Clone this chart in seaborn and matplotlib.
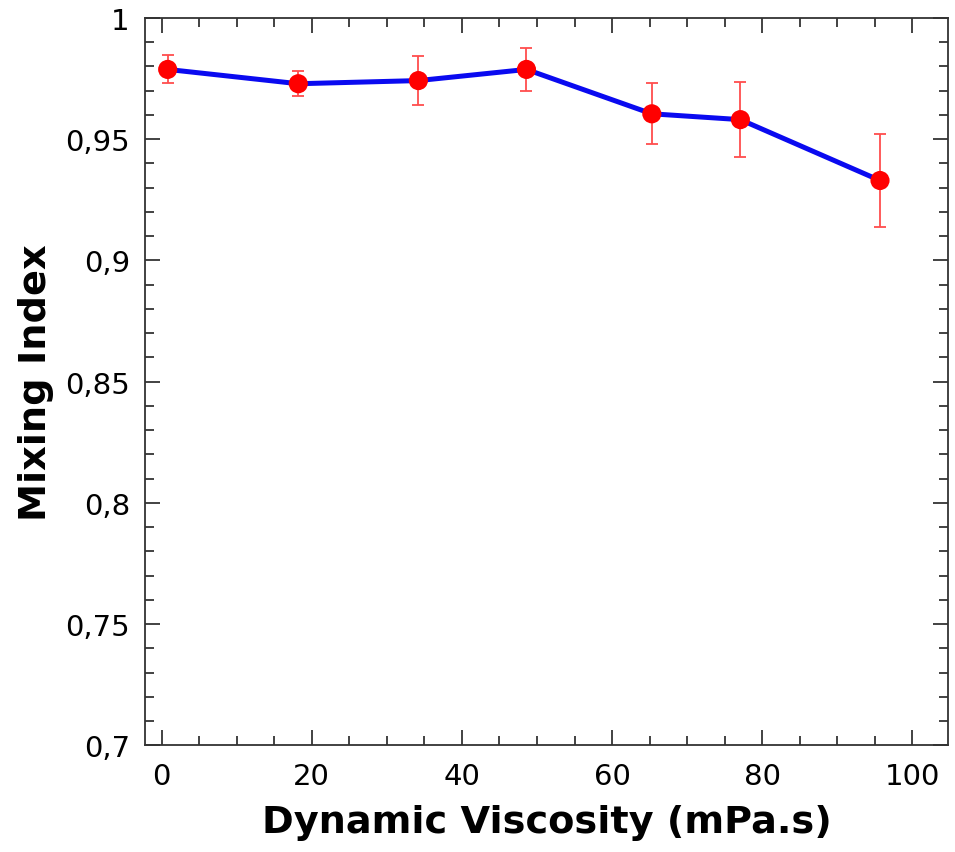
import numpy as np
import pandas as pd
import matplotlib
matplotlib.use('Agg')
import matplotlib.pyplot as plt
import seaborn as sns
from matplotlib.ticker import MultipleLocator, FuncFormatter

# values
viscosity = [0.8, 18.2, 34.2, 48.6, 65.3, 77.1, 95.7]
mixing_index = [0.9787, 0.9728, 0.9741, 0.9787, 0.9604, 0.9580, 0.9329]
mixing_err = [0.0058, 0.0052, 0.0100, 0.0087, 0.0126, 0.0155, 0.0193]

df = pd.DataFrame({'visc': viscosity, 'mi': mixing_index, 'err': mixing_err})

sns.set_style('ticks')
plt.rcParams['font.family'] = ['DejaVu Sans']
plt.rcParams['text.color'] = 'black'
plt.rcParams['axes.labelcolor'] = 'black'
plt.rcParams['xtick.color'] = '#222222'
plt.rcParams['ytick.color'] = '#222222'

fig = plt.figure(figsize=(9.55, 8.53), dpi=100)
ax = fig.add_axes([0.152, 0.125, 0.841, 0.853])

# error bars first, underneath
ax.errorbar(df['visc'], df['mi'], yerr=df['err'], fmt='none',
            ecolor='#ff4d4d', elinewidth=1.3, capsize=4.5, capthick=1.3, zorder=2)
sns.lineplot(data=df, x='visc', y='mi', color='#0a0af0', linewidth=3.6,
             ax=ax, zorder=3, estimator=None, sort=False)
sns.scatterplot(data=df, x='visc', y='mi', color='#ff0000', s=190,
                edgecolor='none', ax=ax, zorder=4)

ax.set_xlim(-2.2, 104.8)
ax.set_ylim(0.7, 1.0)
ax.xaxis.set_major_locator(MultipleLocator(20))
ax.xaxis.set_minor_locator(MultipleLocator(5))
ax.yaxis.set_major_locator(MultipleLocator(0.05))
ax.yaxis.set_minor_locator(MultipleLocator(0.01))

def comma_fmt(v, pos):
    s = ('%.2f' % v).rstrip('0').rstrip('.')
    return s.replace('.', ',')

ax.yaxis.set_major_formatter(FuncFormatter(comma_fmt))

ax.tick_params(which='both', direction='in', top=True, right=True)
ax.tick_params(which='major', length=10.5, width=1.2)
ax.tick_params(which='minor', length=6.5, width=1.2)
ax.tick_params(axis='y', which='major', labelsize=21, pad=11, labelcolor='black')
ax.tick_params(axis='x', which='major', labelsize=21, pad=12, labelcolor='black')

for sp in ax.spines.values():
    sp.set_color('#333333')
    sp.set_linewidth(1.3)

ax.set_xlabel('Dynamic Viscosity (mPa.s)', fontsize=27.5, fontweight='bold', labelpad=10)
ax.set_ylabel('Mixing Index', fontsize=27.5, fontweight='bold', labelpad=8)

fig.savefig('out.png', dpi=100)
